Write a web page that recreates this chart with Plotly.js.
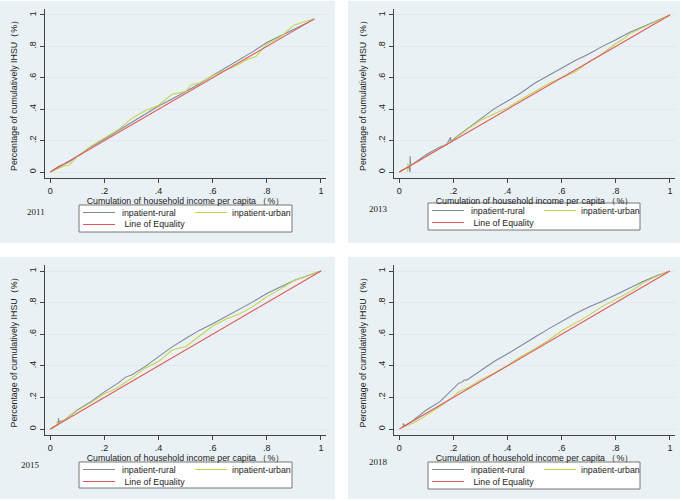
<!DOCTYPE html>
<html>
<head>
<meta charset="utf-8">
<script src="https://cdn.plot.ly/plotly-3.0.1.min.js"></script>
<style>html,body{margin:0;padding:0;background:#fff;}#chart{width:685px;height:501px;}</style>
</head>
<body>
<div id="chart"></div>
<script>
// ---- data ----
const years = ["2011", "2013", "2015", "2018"];
const seriesNames = ["inpatient-rural", "inpatient-urban", " Line of Equality"];
const tickVals = [0, 0.2, 0.4, 0.6, 0.8, 1];
const tickText = ["0", ".2", ".4", ".6", ".8", "1"];

const rural2011X = [0,0.03,0.05,0.07,0.1,0.15,0.2,0.25,0.3,0.35,0.4,0.45,0.5,0.55,0.6,0.65,0.7,0.75,0.8,0.85,0.9,0.95,0.975];
const rural2011Y = [0,0.035,0.05,0.065,0.1,0.16,0.21,0.262,0.315,0.37,0.42,0.465,0.51,0.56,0.615,0.665,0.715,0.768,0.825,0.865,0.908,0.95,0.974];
const urban2011X = [0,0.03,0.05,0.07,0.1,0.15,0.2,0.25,0.3,0.35,0.4,0.45,0.5,0.52,0.55,0.6,0.65,0.7,0.73,0.76,0.8,0.85,0.87,0.9,0.93,0.95,0.975];
const urban2011Y = [0,0.025,0.038,0.045,0.1,0.165,0.215,0.268,0.34,0.39,0.425,0.495,0.513,0.555,0.566,0.615,0.65,0.69,0.72,0.735,0.815,0.86,0.89,0.935,0.952,0.96,0.974];
const equal2011X = [0,0.975];
const equal2011Y = [0,0.975];

const rural2013X = [0,0.035,0.04,0.04,0.042,0.05,0.1,0.15,0.175,0.19,0.19,0.2,0.25,0.3,0.35,0.4,0.45,0.5,0.55,0.6,0.65,0.7,0.75,0.8,0.85,0.9,0.95,1];
const rural2013Y = [0,0.035,0.0,0.1,0.045,0.05,0.112,0.16,0.175,0.222,0.19,0.21,0.275,0.34,0.402,0.452,0.505,0.565,0.615,0.662,0.71,0.752,0.8,0.842,0.888,0.925,0.965,1];
const urban2013X = [0,0.03,0.031,0.031,0.035,0.05,0.1,0.15,0.2,0.25,0.3,0.35,0.4,0.45,0.5,0.55,0.6,0.65,0.7,0.75,0.8,0.83,0.85,0.9,0.95,1];
const urban2013Y = [0,0.03,0.0,0.055,0.04,0.048,0.1,0.15,0.205,0.27,0.33,0.37,0.41,0.462,0.51,0.562,0.6,0.638,0.7,0.754,0.818,0.85,0.88,0.92,0.962,1];
const equal2013X = [0,1];
const equal2013Y = [0,1];

const rural2015X = [0,0.03,0.03,0.032,0.05,0.1,0.15,0.2,0.25,0.28,0.3,0.35,0.4,0.45,0.5,0.55,0.6,0.65,0.7,0.75,0.8,0.85,0.9,0.95,1];
const rural2015Y = [0,0.03,0.068,0.045,0.055,0.12,0.173,0.235,0.29,0.33,0.342,0.395,0.458,0.52,0.573,0.624,0.666,0.712,0.755,0.806,0.858,0.898,0.94,0.97,1];
const urban2015X = [0,0.025,0.025,0.027,0.05,0.1,0.15,0.2,0.22,0.25,0.3,0.35,0.4,0.45,0.5,0.55,0.6,0.65,0.7,0.75,0.8,0.85,0.9,0.95,1];
const urban2015Y = [0,0.025,0.05,0.03,0.055,0.116,0.167,0.225,0.237,0.264,0.32,0.385,0.427,0.5,0.522,0.585,0.652,0.696,0.73,0.776,0.838,0.885,0.94,0.97,1];
const equal2015X = [0,1];
const equal2015Y = [0,1];

const rural2018X = [0.01,0.015,0.015,0.02,0.05,0.1,0.15,0.2,0.22,0.23,0.24,0.25,0.3,0.35,0.4,0.45,0.5,0.55,0.6,0.65,0.7,0.75,0.8,0.85,0.9,0.95,1];
const rural2018Y = [0.01,0.015,0.035,0.02,0.053,0.12,0.173,0.252,0.29,0.295,0.31,0.311,0.37,0.427,0.476,0.526,0.581,0.632,0.681,0.729,0.772,0.808,0.85,0.892,0.934,0.97,1];
const urban2018X = [0.01,0.05,0.09,0.1,0.15,0.2,0.22,0.25,0.3,0.35,0.4,0.45,0.5,0.55,0.6,0.65,0.7,0.75,0.8,0.85,0.9,0.95,1];
const urban2018Y = [0.01,0.036,0.075,0.089,0.142,0.205,0.237,0.258,0.311,0.353,0.402,0.459,0.507,0.56,0.622,0.67,0.719,0.776,0.822,0.865,0.924,0.966,1];
const equal2018X = [0,1];
const equal2018Y = [0,1];

// ---- layout helpers ----
const W = 685, H = 501;
const px = x => x / W;
const py = y => 1 - y / H;
const colors = ["#7b889f", "#c4d54c", "#e0585c"];
const font = "Liberation Sans, Arial, sans-serif";

const panels = [
  {year: years[0], data: [[rural2011X, rural2011Y], [urban2011X, urban2011Y], [equal2011X, equal2011Y]],
   bg: [0, 1, 335, 243], plot: [45, 9, 326, 178], legend: [79, 205, 292, 232], yearPos: [36, 212]},
  {year: years[1], data: [[rural2013X, rural2013Y], [urban2013X, urban2013Y], [equal2013X, equal2013Y]],
   bg: [348, 1, 680, 243], plot: [394, 9, 675, 178], legend: [428, 203, 640, 230], yearPos: [379, 209]},
  {year: years[2], data: [[rural2015X, rural2015Y], [urban2015X, urban2015Y], [equal2015X, equal2015Y]],
   bg: [0, 257, 335, 499], plot: [45, 265, 326, 435], legend: [79, 462, 292, 488], yearPos: [30, 465]},
  {year: years[3], data: [[rural2018X, rural2018Y], [urban2018X, urban2018Y], [equal2018X, equal2018Y]],
   bg: [348, 257, 680, 499], plot: [394, 265, 675, 435], legend: [428, 462, 640, 489], yearPos: [379, 462]}
];

const traces = [];
const shapes = [];
const annotations = [];
const layout = {
  width: W, height: H,
  margin: {l: 0, r: 0, t: 0, b: 0},
  paper_bgcolor: "#ffffff",
  plot_bgcolor: "#ffffff",
  showlegend: false,
  font: {family: font, size: 9, color: "#222"},
  shapes: shapes,
  annotations: annotations
};

panels.forEach((p, i) => {
  const n = i + 1;
  const xa = n === 1 ? "x" : "x" + n;
  const ya = n === 1 ? "y" : "y" + n;
  p.data.forEach((d, k) => {
    traces.push({
      x: d[0], y: d[1], type: "scatter", mode: "lines",
      name: seriesNames[k], xaxis: xa, yaxis: ya,
      line: {color: colors[k], width: 1.05}, hoverinfo: "skip"
    });
  });
  const axFont = {family: font, size: 9, color: "#222"};
  const titleFont = {family: font, size: 8.8, color: "#222"};
  layout[n === 1 ? "xaxis" : "xaxis" + n] = {
    domain: [px(p.plot[0]), px(p.plot[2])],
    anchor: ya, range: [-0.0196, 1.0185], fixedrange: true, automargin: true,
    showline: true, linecolor: "#444", linewidth: 1, mirror: false,
    ticks: "outside", ticklen: 4, tickcolor: "#444", tickwidth: 1,
    tickvals: tickVals, ticktext: tickText, tickfont: axFont,
    showgrid: false, zeroline: false,
    title: {text: "Cumulation of household income per capita （%）", font: titleFont, standoff: 1}
  };
  layout[n === 1 ? "yaxis" : "yaxis" + n] = {
    domain: [py(p.plot[3]), py(p.plot[1])],
    anchor: xa, range: [-0.038, 1.038], fixedrange: true, automargin: true,
    showline: true, linecolor: "#444", linewidth: 1,
    ticks: "outside", ticklen: 4, tickcolor: "#444", tickwidth: 1,
    tickvals: tickVals, ticktext: tickText, tickfont: axFont, tickangle: -90,
    showgrid: true, gridcolor: "#e3e7ea", gridwidth: 1, zeroline: false,
    title: {text: "Percentage of cumulatively IHSU（%）", font: titleFont, standoff: 9}
  };
  // panel background
  shapes.push({type: "rect", xref: "paper", yref: "paper", layer: "below",
    x0: px(p.bg[0]), x1: px(p.bg[2]), y0: py(p.bg[3]), y1: py(p.bg[1]),
    fillcolor: "#eaf1f4", line: {width: 0}});
  // legend box
  const L = p.legend[0], T = p.legend[1];
  shapes.push({type: "rect", xref: "paper", yref: "paper", layer: "above",
    x0: px(L), x1: px(p.legend[2]), y0: py(p.legend[3]), y1: py(T),
    fillcolor: "#ffffff", line: {color: "#777", width: 1}});
  const items = [
    {k: 0, lx: 4, tx: 41, ty: 7.5},
    {k: 1, lx: 116, tx: 151, ty: 7.5},
    {k: 2, lx: 4, tx: 41, ty: 19.5}
  ];
  items.forEach(it => {
    shapes.push({type: "line", xref: "paper", yref: "paper", layer: "above",
      x0: px(L + it.lx), x1: px(L + it.lx + 32), y0: py(T + it.ty), y1: py(T + it.ty),
      line: {color: colors[it.k], width: 1.05}});
    annotations.push({xref: "paper", yref: "paper", x: px(L + it.tx), y: py(T + it.ty),
      xanchor: "left", yanchor: "middle", showarrow: false, text: seriesNames[it.k],
      font: {family: font, size: 8.8, color: "#222"}});
  });
  // year label
  annotations.push({xref: "paper", yref: "paper", x: px(p.yearPos[0]), y: py(p.yearPos[1]),
    xanchor: "center", yanchor: "middle", showarrow: false, text: p.year,
    font: {family: "Liberation Serif, Times New Roman, serif", size: 9, color: "#222"}});
});

Plotly.newPlot("chart", traces, layout, {staticPlot: true, displayModeBar: false});
</script>
</body>
</html>
